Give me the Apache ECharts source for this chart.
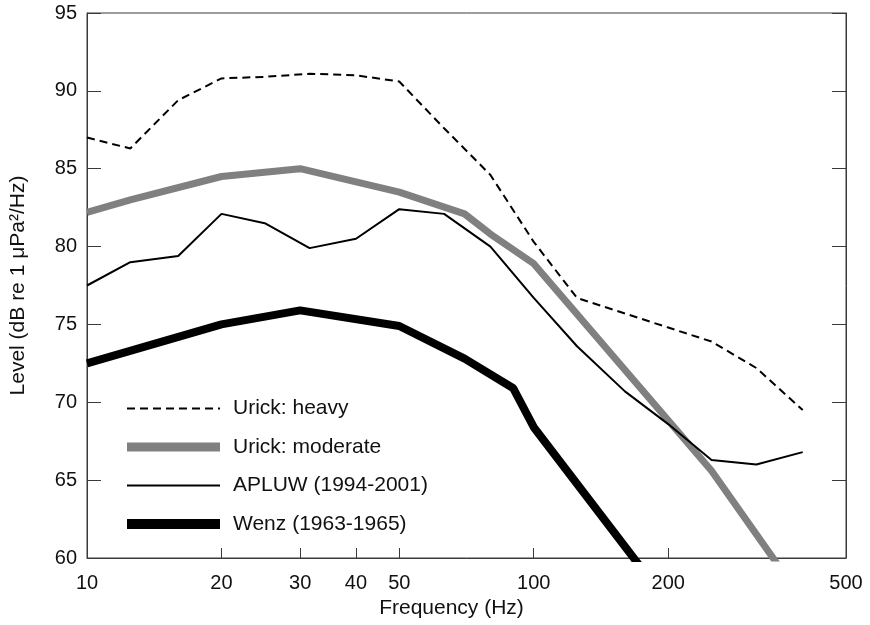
<!DOCTYPE html>
<html>
<head>
<meta charset="utf-8">
<script src="https://cdn.jsdelivr.net/npm/echarts@6/dist/echarts.min.js"></script>
<style>
  html, body { margin: 0; padding: 0; background: #fff; }
  #chart { width: 870px; height: 625px; }
</style>
</head>
<body>
<div id="chart"></div>
<script>
// Ambient noise spectrum levels, frequency in Hz, level in dB re 1 µPa²/Hz
const urickHeavyFreq = [10, 12.5, 16, 20, 25, 31.5, 40, 50, 63, 80, 100, 125, 160, 200, 250, 315, 400];
const urickHeavyLevel = [87.0, 86.3, 89.4, 90.8, 90.9, 91.1, 91.0, 90.6, 87.6, 84.6, 80.3, 76.7, 75.7, 74.8, 73.9, 72.2, 69.5];

const urickModFreq = [10, 12.5, 20, 30, 50, 70, 80, 100, 250, 400];
const urickModLevel = [82.2, 83.0, 84.5, 85.0, 83.5, 82.1, 80.8, 78.9, 65.6, 57.3];

const apluwFreq = [10, 12.5, 16, 20, 25, 31.5, 40, 50, 63, 80, 100, 125, 160, 200, 250, 315, 400];
const apluwLevel = [77.5, 79.0, 79.4, 82.1, 81.5, 79.9, 80.5, 82.4, 82.1, 80.0, 76.7, 73.6, 70.7, 68.6, 66.3, 66.0, 66.8];

const wenzFreq = [10, 20, 30, 50, 70, 90, 100, 200];
const wenzLevel = [72.5, 75.0, 75.9, 74.9, 72.8, 70.9, 68.4, 57.1];

const seriesNames = ['Urick: heavy', 'Urick: moderate', 'APLUW (1994-2001)', 'Wenz (1963-1965)'];

const xLabelValues = [10, 20, 30, 40, 50, 100, 200, 500];
const xTickValues = [20, 30, 40, 50, 100, 200];

const FONT = "'Liberation Sans', Arial, Helvetica, sans-serif";
const AXIS_COLOR = '#3a3a3a';
const TEXT_COLOR = '#111';

const lineStyles = [
  { color: '#000', width: 2, type: [8, 5] },
  { color: '#808080', width: 7 },
  { color: '#000', width: 2 },
  { color: '#000', width: 8 }
];
const legendWidths = [2, 9, 2, 10];

function pairs(xs, ys) { return xs.map((x, i) => [x, ys[i]]); }

const seriesData = [
  pairs(urickHeavyFreq, urickHeavyLevel),
  pairs(urickModFreq, urickModLevel),
  pairs(apluwFreq, apluwLevel),
  pairs(wenzFreq, wenzLevel)
];
const zOrder = [4, 2, 3, 3];

const chart = echarts.init(document.getElementById('chart'), null, { renderer: 'canvas' });

chart.setOption({
  animation: false,
  backgroundColor: '#ffffff',
  textStyle: { fontFamily: FONT },
  grid: {
    left: 86, right: 24, top: 13, bottom: 67,
    show: true, borderColor: AXIS_COLOR, borderWidth: 1, backgroundColor: 'transparent'
  },
  legend: {
    orient: 'vertical',
    left: 122, top: 398, padding: 0,
    itemWidth: 93, itemHeight: 14, itemGap: 17.5,
    data: seriesNames.map((name, i) => ({
      name: name,
      lineStyle: { width: legendWidths[i] },
      itemStyle: { opacity: 0 }
    })),
    textStyle: { fontFamily: FONT, fontSize: 21, color: TEXT_COLOR, lineHeight: 21, padding: [0, 0, 0, 8] }
  },
  xAxis: [{
    type: 'log', logBase: 10, min: 10, max: 500,
    name: 'Frequency (Hz)', nameLocation: 'middle', nameGap: 40,
    nameTextStyle: { fontFamily: FONT, fontSize: 21, color: TEXT_COLOR, padding: [0, 30, 0, 0] },
    axisLine: { show: true, lineStyle: { color: AXIS_COLOR } },
    axisTick: { show: true, inside: true, length: 10, customValues: xTickValues, lineStyle: { color: AXIS_COLOR } },
    minorTick: { show: false },
    axisLabel: { fontFamily: FONT, fontSize: 20, color: TEXT_COLOR, margin: 15, customValues: xLabelValues },
    splitLine: { show: false }
  }],
  yAxis: [{
    type: 'value', min: 60, max: 95, interval: 5,
    name: 'Level (dB re 1 μPa²/Hz)', nameLocation: 'middle', nameGap: 58,
    nameTextStyle: { fontFamily: FONT, fontSize: 21, color: TEXT_COLOR },
    axisLine: { show: true, lineStyle: { color: AXIS_COLOR } },
    axisTick: { show: true, inside: true, length: 14, lineStyle: { color: AXIS_COLOR } },
    axisLabel: { fontFamily: FONT, fontSize: 20, color: TEXT_COLOR, margin: 10 },
    splitLine: { show: false }
  }, {
    type: 'value', min: 60, max: 95, interval: 5, position: 'right',
    axisLine: { show: true, lineStyle: { color: AXIS_COLOR } },
    axisTick: { show: true, inside: true, length: 14, lineStyle: { color: AXIS_COLOR } },
    axisLabel: { show: false },
    splitLine: { show: false }
  }],
  series: seriesNames.map((name, i) => ({
    name: name,
    type: 'line',
    symbol: 'none',
    clip: true,
    data: seriesData[i],
    lineStyle: lineStyles[i],
    itemStyle: { color: lineStyles[i].color },
    z: zOrder[i]
  }))
});
</script>
</body>
</html>
